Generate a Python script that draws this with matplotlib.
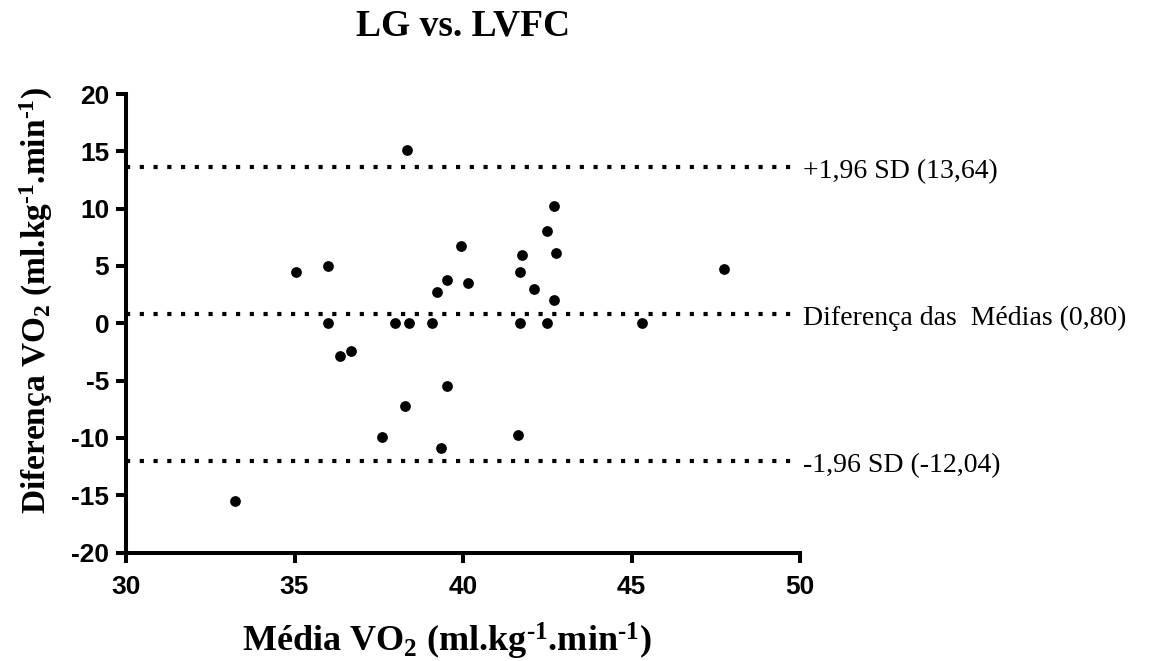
import matplotlib
matplotlib.use("Agg")
import matplotlib.pyplot as plt

# Bland-Altman: LG vs. LVFC
media = [33.23, 35.04, 35.98, 35.98, 36.34, 36.69, 37.60, 37.99, 38.29, 38.33,
         38.39, 39.09, 39.24, 39.34, 39.54, 39.54, 39.94, 40.14, 41.64, 41.70,
         41.70, 41.75, 42.10, 42.49, 42.49, 42.69, 42.69, 42.75, 45.31, 47.75]
diferenca = [-15.49, 4.51, 5.01, 0.0, -2.85, -2.42, -9.96, 0.0, -7.22, 15.14,
             0.0, 0.0, 2.74, -10.89, 3.73, -5.47, 6.75, 3.55, -9.72, 4.43,
             0.0, 5.97, 3.03, 8.03, 0.0, 10.25, 2.04, 6.11, 0.0, 4.69]

linhas = [13.64, 0.80, -12.04]
rotulos = ["+1,96 SD (13,64)", "Diferença das  Médias (0,80)", "-1,96 SD (-12,04)"]

xticks = [30, 35, 40, 45, 50]
yticks = [20, 15, 10, 5, 0, -5, -10, -15, -20]

plt.rcParams['mathtext.fontset'] = 'custom'
plt.rcParams['mathtext.rm'] = 'Liberation Serif:bold'
plt.rcParams['mathtext.it'] = 'Liberation Serif:bold'
plt.rcParams['mathtext.bf'] = 'Liberation Serif:bold'

W, H = 1159, 661
fig = plt.figure(figsize=(W / 100, H / 100), dpi=100)
ax = fig.add_axes([126 / W, 1 - 552.5 / H, 674 / W, 458.5 / H])

ax.scatter(media, diferenca, s=60, color="black", zorder=3, linewidths=0)

for v, t in zip(linhas, rotulos):
    ax.hlines(v, 30, 49.8, colors="black", linewidth=3,
              linestyles=(0, (1, 2.3)), zorder=2)
    ax.text(50.1, v - 0.4, t, family="Liberation Serif", fontsize=20,
            va="center", ha="left", clip_on=False)

ax.set_xlim(30, 50)
ax.set_ylim(-20, 20)
ax.set_xticks(xticks)
ax.set_yticks(yticks)
ax.set_xticklabels([str(v) for v in xticks])
ax.set_yticklabels([str(v) for v in yticks])
for lab in ax.get_xticklabels() + ax.get_yticklabels():
    lab.set_family("Liberation Sans")
    lab.set_fontweight("bold")
    lab.set_fontsize(19)

for s in ["top", "right"]:
    ax.spines[s].set_visible(False)
for s in ["left", "bottom"]:
    ax.spines[s].set_linewidth(2.9)
    ax.spines[s].set_capstyle("projecting")
ax.tick_params(direction="out", length=7, width=2.9, pad=5, color="black")
ax.tick_params(axis="x", pad=9)

fig.text(463 / W, 1 - 26 / H, "LG vs. LVFC", family="Liberation Serif",
         fontweight="bold", fontsize=27, ha="center", va="center")
fig.text(447 / W, 1 - 641 / H,
         r"Média VO$_2$ (ml.kg$^{\text{-}1}$.min$^{\text{-}1}$)",
         family="Liberation Serif", fontweight="bold", fontsize=26,
         ha="center", va="center")
fig.text(36 / W, 1 - 300 / H,
         r"Diferença VO$_2$ (ml.kg$^{\text{-}1}$.min$^{\text{-}1}$)",
         family="Liberation Serif", fontweight="bold", fontsize=24,
         ha="center", va="center", rotation=90)

fig.savefig("out.png", dpi=100)
